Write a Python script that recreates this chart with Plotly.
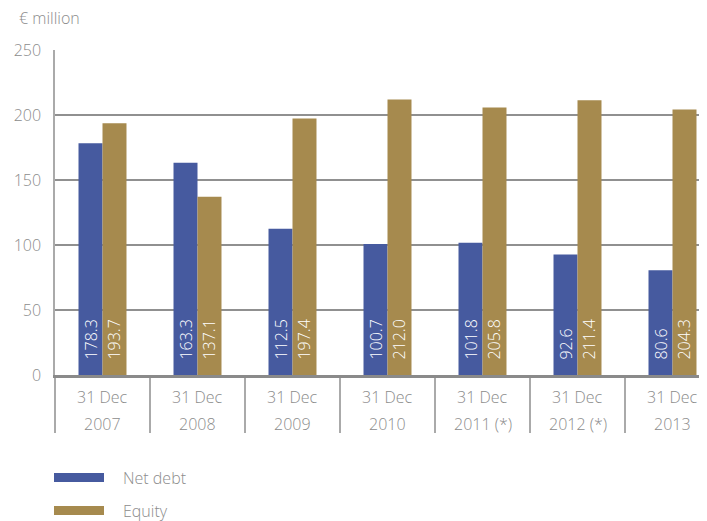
import plotly.graph_objects as go

categories = ["2007", "2008", "2009", "2010", "2011 (*)", "2012 (*)", "2013"]
date_label = "31 Dec"
net_debt = [178.3, 163.3, 112.5, 100.7, 101.8, 92.6, 80.6]
equity = [193.7, 137.1, 197.4, 212.0, 205.8, 211.4, 204.3]
series_names = ["Net debt", "Equity"]
y_ticks = [0, 50, 100, 150, 200, 250]

BLUE = "#465A9F"
GOLD = "#A68A4E"
GRAY = "#8C8C8C"
FONT = "Open Sans"

# page body has an 8px default margin; compensate so the picture matches
OFF = 8
W, H = 707 - OFF, 521 - OFF
ML, MT, MB = 55 - OFF, 50 - OFF, 146
plot_h = H - MT - MB
plot_w = W - ML

def py(pix):
    # pix in reference picture coordinates
    return (H - MB - (pix - OFF)) / plot_h

def px(pix):
    return ((pix - OFF) - ML) / plot_w

NB = "\u00a0"

fig = go.Figure()
for name, vals, col in [(series_names[0], net_debt, BLUE), (series_names[1], equity, GOLD)]:
    fig.add_trace(go.Bar(
        x=categories, y=vals, name=name, marker_color=col, marker_line_width=0,
        text=[NB * 3 + f"{v:.1f}" for v in vals], textposition="inside",
        insidetextanchor="start", textangle=-90, constraintext="none",
        textfont=dict(color="white", size=16, family=FONT, weight=300),
        showlegend=False,
    ))

group_px = 95
n = len(categories)
x_range = [-0.5, -0.5 + plot_w / group_px]

lbl_font = dict(size=16, color=GRAY, family=FONT, weight=300)
annotations = []
for i, c in enumerate(categories):
    annotations.append(dict(x=i, y=py(397), xref="x", yref="paper", text=date_label,
                            showarrow=False, yanchor="middle", font=lbl_font))
    annotations.append(dict(x=i, y=py(424), xref="x", yref="paper", text=c,
                            showarrow=False, yanchor="middle", font=lbl_font))

annotations.append(dict(x=px(17), y=py(18), xref="paper", yref="paper", text="€ million",
                        showarrow=False, xanchor="left", yanchor="middle", font=lbl_font))

shapes = []
for k, (name, col) in enumerate([(series_names[0], BLUE), (series_names[1], GOLD)]):
    cy = 477.5 + k * 33
    shapes.append(dict(type="rect", xref="paper", yref="paper",
                       x0=px(54), x1=px(104), y0=py(cy - 4.5), y1=py(cy + 4.5),
                       fillcolor=col, line_width=0))
    annotations.append(dict(x=px(121), y=py(cy), xref="paper", yref="paper", text=name,
                            showarrow=False, xanchor="left", yanchor="middle", font=lbl_font))

fig.update_layout(
    width=W, height=H,
    margin=dict(l=ML, r=0, t=MT, b=MB, pad=0),
    paper_bgcolor="white", plot_bgcolor="white",
    barmode="group", bargap=0.495, bargroupgap=0,
    font=dict(family=FONT, color=GRAY, size=16, weight=300),
    annotations=annotations, shapes=shapes,
    showlegend=False,
)
fig.update_xaxes(
    type="category", range=x_range, showticklabels=False, tickson="boundaries",
    ticks="outside", ticklen=55, tickwidth=1.5, tickcolor="#AAAAAA",
    showline=True, linecolor="#8A8A8A", linewidth=3,
    showgrid=False, zeroline=False, fixedrange=True,
)
fig.update_yaxes(
    range=[0, 250], tickvals=y_ticks, ticks="", ticklabelstandoff=9,
    tickfont=dict(size=16, color=GRAY, family=FONT, weight=300),
    showgrid=True, gridcolor="#909090", gridwidth=1.5,
    showline=True, linecolor="#AAAAAA", linewidth=1.5,
    zeroline=False, fixedrange=True,
)

fig.write_html("out.html")
